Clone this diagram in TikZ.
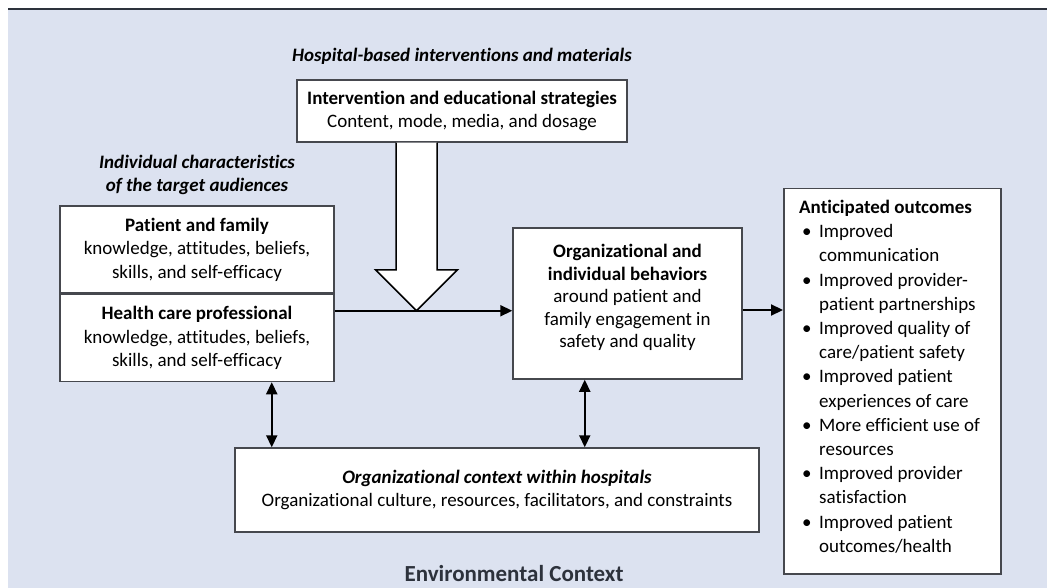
\documentclass[tikz,border=0pt]{standalone}
\usepackage{fontspec}
\setmainfont{Carlito}[Ligatures=NoCommon]
\usetikzlibrary{arrows.meta,calc,positioning}
\definecolor{PanelBlue}{RGB}{220,226,240}
\definecolor{FrameGray}{RGB}{70,72,78}
\definecolor{RuleDark}{RGB}{45,50,60}

\tikzset{
  box/.style={draw=FrameGray,line width=1.5pt,fill=white,align=center,
    inner sep=0pt},
  flow/.style={-{Triangle[length=12pt,width=11pt]},line width=2.2pt},
  dbl/.style={{Triangle[length=12pt,width=11pt]}-{Triangle[length=12pt,width=11pt]},
    line width=2.2pt},
  headline/.style={font=\fontsize{19}{23.5}\selectfont\bfseries\itshape,align=center}
}

\begin{document}
\begin{tikzpicture}[x=1pt,y=-1pt,font=\fontsize{19}{23.5}\selectfont]
  \useasboundingbox (0,0) rectangle (1047,588);
  \fill[PanelBlue] (8,9) rectangle (1047,588);
  \draw[RuleDark,line width=1.6pt] (8,9) -- (1047,9);

  \node[headline] (hosp) at (462,56) {Hospital-based interventions and materials};
  \node[box,minimum width=330pt,minimum height=62pt] (strat) at (462,111)
    {\textbf{Intervention and educational strategies}\\
     Content, mode, media, and dosage};

  \node[headline] (indiv) at (197,175)
    {Individual characteristics\\of the target audiences};
  \node[box,minimum width=274pt,minimum height=87pt] (pat) at (197,249.5)
    {\textbf{Patient and family}\\knowledge, attitudes, beliefs,\\skills, and self-efficacy};
  \node[box,minimum width=274pt,minimum height=87pt,below=0pt of pat] (hcp)
    {\textbf{Health care professional}\\knowledge, attitudes, beliefs,\\skills, and self-efficacy};

  \node[box,minimum width=229pt,minimum height=151pt,
    font=\fontsize{19}{22.5}\selectfont] (behav) at (627.5,303.5)
    {\textbf{Organizational and}\\\textbf{individual behaviors}\\around patient and\\
     family engagement in\\safety and quality\\[-7.5pt]};

  \node[box,minimum width=217pt,minimum height=385pt,anchor=north west] (outc)
    at (783,188) {};
  \node[anchor=north west,align=left,inner sep=0pt,
    font=\fontsize{19}{24.2}\selectfont] (outtxt) at (799,200)
    {\textbf{Anticipated outcomes}\\
     \hspace*{3pt}\makebox[17pt][l]{\textbullet}Improved\\
     \hspace*{20pt}communication\\
     \hspace*{3pt}\makebox[17pt][l]{\textbullet}Improved provider-\\
     \hspace*{20pt}patient partnerships\\
     \hspace*{3pt}\makebox[17pt][l]{\textbullet}Improved quality of\\
     \hspace*{20pt}care/patient safety\\
     \hspace*{3pt}\makebox[17pt][l]{\textbullet}Improved patient\\
     \hspace*{20pt}experiences of care\\
     \hspace*{3pt}\makebox[17pt][l]{\textbullet}More efficient use of\\
     \hspace*{20pt}resources\\
     \hspace*{3pt}\makebox[17pt][l]{\textbullet}Improved provider\\
     \hspace*{20pt}satisfaction\\
     \hspace*{3pt}\makebox[17pt][l]{\textbullet}Improved patient\\
     \hspace*{20pt}outcomes/health};

  \node[box,minimum width=524pt,minimum height=84pt] (ctx) at (497,490)
    {\textbf{\itshape Organizational context within hospitals}\\
     Organizational culture, resources, facilitators, and constraints};
  \node[font=\fontsize{23}{28}\selectfont\bfseries,text=RuleDark] (env) at (514,574)
    {Environmental Context};

  % hollow arrow from the strategies box
  \draw[line width=1.5pt,fill=white]
    ($(strat.south)+(-66,0)$) -- ++(0,127) -- ++(-20.5,0) -- ++(41,41)
    -- ++(41,-41) -- ++(-20.5,0) -- ($(strat.south)+(-25,0)$);

  \draw[flow] ([yshift=-17pt]hcp.north east) -- ([yshift=-17pt]hcp.north east -| behav.west);
  \draw[flow] ([yshift=-6.5pt]behav.east) -- ([yshift=-6.5pt]behav.east -| outc.west);
  \draw[dbl] ([xshift=-63pt]hcp.south east) -- ([xshift=-63pt]hcp.south east |- ctx.north);
  \draw[dbl] ([xshift=-158pt]behav.south east) -- ([xshift=-158pt]behav.south east |- ctx.north);
\end{tikzpicture}
\end{document}
